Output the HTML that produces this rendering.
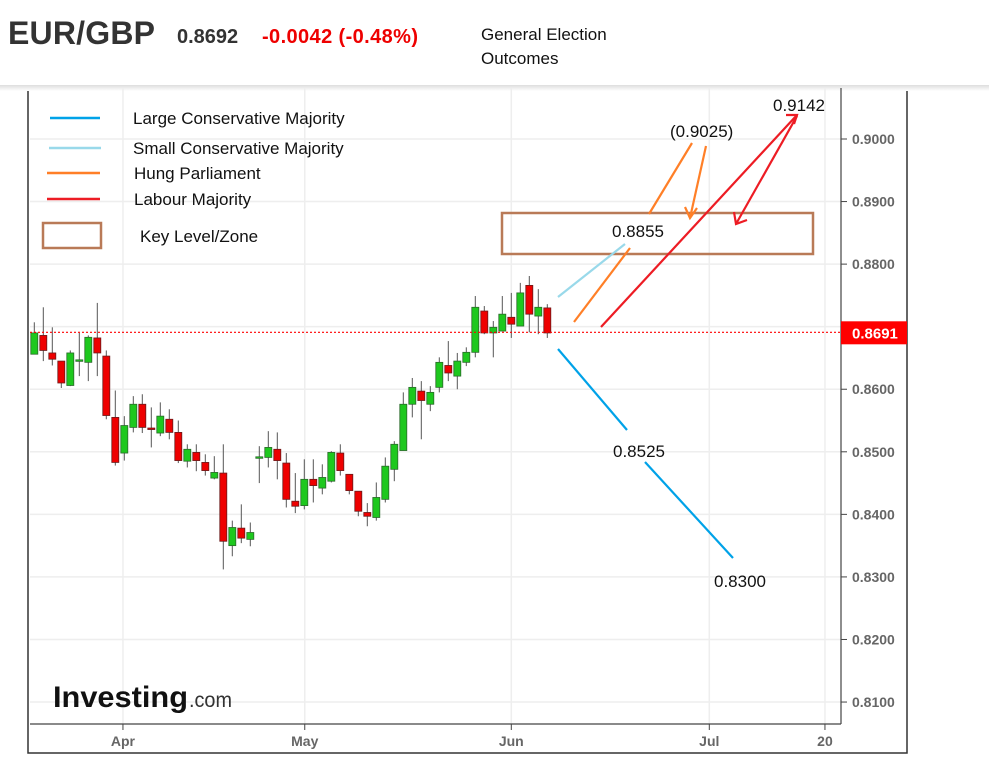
<!DOCTYPE html>
<html><head><meta charset="utf-8">
<style>
body{margin:0;background:#fff;width:989px;height:781px;overflow:hidden;font-family:"Liberation Sans",sans-serif;}
svg{position:absolute;left:0;top:0}
</style></head><body>
<svg width="989" height="781" xmlns="http://www.w3.org/2000/svg">
<defs>
<linearGradient id="sh" x1="0" y1="0" x2="0" y2="1"><stop offset="0" stop-color="#ddd"/><stop offset="1" stop-color="#fff"/></linearGradient>
</defs>
<rect x="28" y="84" width="879" height="669" fill="#fff" stroke="#333" stroke-width="1.5"/>
<rect x="0" y="85" width="989" height="6" fill="url(#sh)"/>
<rect x="0" y="0" width="989" height="85" fill="#fff"/>
<text x="8" y="44" font-size="32" font-weight="bold" fill="#333" textLength="147">EUR/GBP</text>
<text x="177" y="43" font-size="20" font-weight="bold" fill="#333">0.8692</text>
<text x="262" y="43" font-size="20" font-weight="bold" fill="#e00" textLength="156">-0.0042 (-0.48%)</text>
<text x="481" y="40" font-size="17" fill="#111">General Election</text>
<text x="481" y="64" font-size="17" fill="#111">Outcomes</text>
<g id="grid"></g>
<line x1="30" y1="724" x2="841" y2="724" stroke="#444" stroke-width="1.2"/>
<line x1="841" y1="88" x2="841" y2="724" stroke="#444" stroke-width="1.2"/>
<g id="yticks"></g><g id="xticks"></g>
<g id="candles"></g>
<g id="curline"></g>
<g font-size="17" fill="#111">
<line x1="50" y1="118" x2="100" y2="118" stroke="#00a2e8" stroke-width="2.5"/>
<text x="133" y="124">Large Conservative Majority</text>
<line x1="49" y1="148" x2="101" y2="148" stroke="#99d9ea" stroke-width="2.5"/>
<text x="133" y="154">Small Conservative Majority</text>
<line x1="47" y1="173" x2="100" y2="173" stroke="#ff7f27" stroke-width="2.5"/>
<text x="134" y="179">Hung Parliament</text>
<line x1="47" y1="199" x2="100" y2="199" stroke="#ed1c24" stroke-width="2.5"/>
<text x="134" y="205">Labour Majority</text>
<rect x="43" y="223" width="58" height="25" fill="none" stroke="#b97a57" stroke-width="2.5"/>
<text x="140" y="242">Key Level/Zone</text>
</g>
<rect x="502" y="213" width="311" height="41" fill="none" stroke="#b97a57" stroke-width="2.5"/>
<g stroke-width="2.2" fill="none">
<line x1="558" y1="297" x2="625" y2="244" stroke="#99d9ea"/>
<line x1="574" y1="322" x2="630" y2="248" stroke="#ff7f27"/>
<line x1="649" y1="214" x2="692" y2="143" stroke="#ff7f27"/>
<polyline points="706,146 690,218" stroke="#ff7f27"/>
<polyline points="685,207 690,218 697,208" stroke="#ff7f27"/>
<line x1="601" y1="327" x2="797" y2="115" stroke="#ed1c24"/>
<polyline points="797,116 736,224" stroke="#ed1c24"/>
<polyline points="734,212 736,224 747,220" stroke="#ed1c24"/>
<polyline points="786,115 797,115 794,124" stroke="#ed1c24"/>
<line x1="558" y1="349" x2="627" y2="430" stroke="#00a2e8"/>
<line x1="645" y1="462" x2="733" y2="558" stroke="#00a2e8"/>
</g>
<g font-size="17" fill="#111">
<text x="773" y="111">0.9142</text>
<text x="670" y="137">(0.9025)</text>
<text x="612" y="237">0.8855</text>
<text x="613" y="457">0.8525</text>
<text x="714" y="587">0.8300</text>
</g>
<g>
<text x="53" y="707" font-size="30" font-weight="bold" fill="#111" textLength="135" lengthAdjust="spacingAndGlyphs">Investing</text>
<text x="189" y="707" font-size="21" fill="#333" textLength="43" lengthAdjust="spacingAndGlyphs">.com</text>
</g>
</svg>
<script>
const opens=[0.8656,0.8686,0.8658,0.8645,0.8606,0.8647,0.8643,0.8682,0.8653,0.8555,0.8498,0.8539,0.8576,0.8538,0.8530,0.8552,0.8531,0.8485,0.8499,0.8483,0.8458,0.8466,0.8350,0.8378,0.8360,0.8492,0.8491,0.8504,0.8482,0.8421,0.8414,0.8456,0.8442,0.8453,0.8498,0.8464,0.8437,0.8403,0.8395,0.8424,0.8472,0.8502,0.8576,0.8597,0.8576,0.8603,0.8638,0.8621,0.8643,0.8659,0.8725,0.8690,0.8693,0.8715,0.8701,0.8766,0.8717,0.8730];
const highs=[0.8707,0.8731,0.8699,0.8645,0.8662,0.8690,0.8686,0.8738,0.8662,0.8598,0.8557,0.8589,0.8592,0.8571,0.8579,0.8568,0.8550,0.8512,0.8512,0.8496,0.8493,0.8512,0.8390,0.8416,0.8387,0.8509,0.8533,0.8531,0.8498,0.8466,0.8488,0.8488,0.8480,0.8501,0.8512,0.8464,0.8437,0.8418,0.8451,0.8491,0.8517,0.8595,0.8618,0.8613,0.8605,0.8651,0.8677,0.8658,0.8667,0.8749,0.8733,0.8709,0.8749,0.8754,0.8770,0.8781,0.8760,0.8736];
const lows=[0.8656,0.8645,0.8638,0.8602,0.8605,0.8621,0.8613,0.8621,0.8552,0.8478,0.8486,0.8531,0.8530,0.8507,0.8525,0.8520,0.8482,0.8475,0.8469,0.8462,0.8456,0.8312,0.8333,0.8354,0.8349,0.8450,0.8475,0.8456,0.8411,0.8402,0.8408,0.8419,0.8432,0.8451,0.8462,0.8432,0.8397,0.8381,0.8390,0.8419,0.8453,0.8502,0.8555,0.8520,0.8565,0.8595,0.8613,0.8600,0.8637,0.8651,0.8688,0.8651,0.8693,0.8682,0.8701,0.8691,0.8688,0.8682];
const closes=[0.8690,0.8662,0.8648,0.8610,0.8658,0.8647,0.8683,0.8658,0.8558,0.8483,0.8542,0.8576,0.8539,0.8536,0.8557,0.8531,0.8486,0.8504,0.8486,0.8470,0.8467,0.8357,0.8379,0.8362,0.8371,0.8492,0.8507,0.8486,0.8424,0.8413,0.8456,0.8446,0.8459,0.8499,0.8470,0.8438,0.8405,0.8397,0.8427,0.8477,0.8512,0.8576,0.8603,0.8582,0.8595,0.8643,0.8626,0.8645,0.8659,0.8731,0.8690,0.8699,0.8720,0.8704,0.8754,0.8720,0.8731,0.8690];
const yTicks=[0.90,0.89,0.88,0.87,0.86,0.85,0.84,0.83,0.82,0.81];
const xLabels=["Apr","May","Jun","Jul","20"];
const xLabelIdx=[9.85,30.05,53,75,87.85];
const currentPrice=0.8691;

const NS="http://www.w3.org/2000/svg";
const Y=p=>139+(0.9-p)*6256;
const X=i=>34.3+i*9;
function mk(t,a,parent){const e=document.createElementNS(NS,t);for(const k in a)e.setAttribute(k,a[k]);parent.appendChild(e);return e;}
const grid=document.getElementById('grid'),yt=document.getElementById('yticks'),xt=document.getElementById('xticks'),cg=document.getElementById('candles'),cl=document.getElementById('curline');
yTicks.forEach(v=>{
  const y=Y(v);
  const g=mk('line',{x1:30,x2:841,y1:y,y2:y,stroke:'#eee','stroke-width':1.5},grid);
  
  
  mk('line',{x1:841,x2:847,y1:y,y2:y,stroke:'#444'},yt);
  const t=mk('text',{x:852,y:y+5,'font-size':14,fill:'#666','font-weight':'bold'},yt);
  t.textContent=v.toFixed(4);
  
  
});
xLabels.forEach((l,k)=>{
  const x=X(xLabelIdx[k]);
  const g=mk('line',{x1:x,x2:x,y1:88,y2:724,stroke:'#eee','stroke-width':1.5},grid);
  
  
  mk('line',{x1:x,x2:x,y1:724,y2:730,stroke:'#444'},xt);
  const t=mk('text',{x:x,y:746,'font-size':14,fill:'#666','font-weight':'bold','text-anchor':'middle'},xt);
  t.textContent=l;
  
  
});
opens.forEach((o,i)=>{
  const c=closes[i],x=X(i),up=c>=o;
  const w=mk('line',{x1:x,x2:x,y1:Y(highs[i]),y2:Y(lows[i]),stroke:'#555','stroke-width':1},cg);
  
  
  const top=Y(Math.max(o,c)),h=Math.max(1.5,Math.abs(Y(o)-Y(c)));
  const b=mk('rect',{x:x-3.5,y:top,width:7,height:h,fill:up?'#1ec81e':'#e00',stroke:up?'#2a6a2a':'#6a1a1a','stroke-width':0.8},cg);
  
  
});
const cy=Y(currentPrice);
const ln=mk('line',{x1:30,x2:841,y1:cy,y2:cy,stroke:'#f00','stroke-width':1.2,'stroke-dasharray':'2,2'},cl);


const bx=mk('rect',{x:841,y:cy-11,width:66,height:23,fill:'#f00'},cl);


const bt=mk('text',{x:852,y:cy+6,'font-size':15,'font-weight':'bold',fill:'#fff'},cl);
bt.textContent=currentPrice.toFixed(4);


</script>
</body></html>
